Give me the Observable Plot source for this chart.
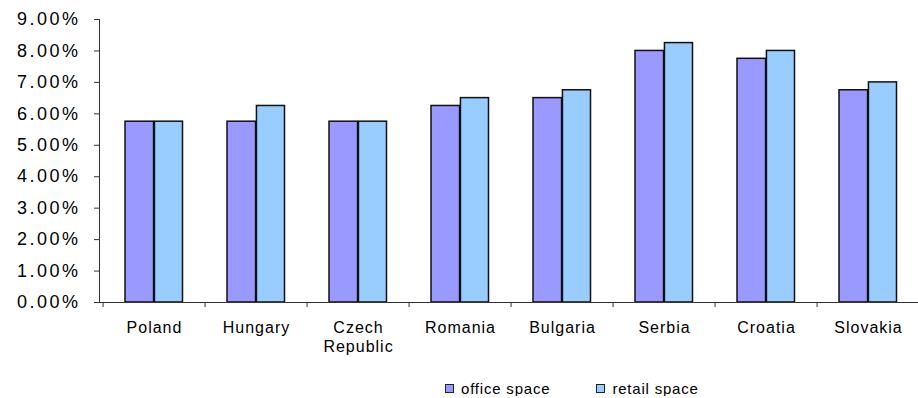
<!DOCTYPE html>
<html>
<head>
<meta charset="utf-8">
<script src="https://cdn.jsdelivr.net/npm/d3@7"></script>
<script src="https://cdn.jsdelivr.net/npm/@observablehq/plot@0.6"></script>
<style>
  html, body { margin: 0; padding: 0; background: #fff; }
  #chart svg { display: block; }
  .ylab text { letter-spacing: 2.5px; }
  .xlab text { letter-spacing: 1px; }
  #legend { display: flex; align-items: center; height: 16px; margin-top: 8px; padding-left: 445px;
            font-family: "Liberation Sans", Arial, sans-serif; font-size: 15px; letter-spacing: 0.8px; color: #000; }
  .sw { width: 7px; height: 7px; border: 1px solid #222; margin-right: 7px; }
  .item { display: flex; align-items: center; }
</style>
</head>
<body>
<div id="chart"></div>
<div id="legend"></div>
<script>
const countries = ["Poland", "Hungary", "Czech Republic", "Romania", "Bulgaria", "Serbia", "Croatia", "Slovakia"];
const officeSpace = [5.75, 5.75, 5.75, 6.25, 6.5, 8.0, 7.75, 6.75];
const retailSpace = [5.75, 6.25, 5.75, 6.5, 6.75, 8.25, 8.0, 7.0];
const seriesNames = ["office space", "retail space"];
const seriesColors = ["#9999ff", "#99ccff"];
const yTicks = [0, 1, 2, 3, 4, 5, 6, 7, 8, 9];

const office = countries.map((c, i) => ({country: c, value: officeSpace[i]}));
const retail = countries.map((c, i) => ({country: c, value: retailSpace[i]}));

const W = 918, ML = 99, MR = -4;
const bw = (W - ML - MR) / countries.length;

const chart = Plot.plot({
  width: W,
  height: 372,
  marginLeft: ML,
  marginRight: MR,
  marginTop: 19,
  marginBottom: 70,
  style: {fontFamily: "'Liberation Sans', Arial, sans-serif", color: "#000", background: "#fff"},
  x: {domain: countries, padding: 0, axis: null, label: null},
  y: {domain: [0, 9], axis: null, label: null},
  marks: [
    Plot.barY(office, {x: "country", y: "value", fill: seriesColors[0], stroke: "#111", strokeWidth: 1.5, insetLeft: 22, insetRight: bw / 2}),
    Plot.barY(retail, {x: "country", y: "value", fill: seriesColors[1], stroke: "#111", strokeWidth: 1.5, insetLeft: bw / 2, insetRight: 22.5}),
    Plot.ruleY([0], {stroke: "#333"}),
    Plot.frame({anchor: "left", stroke: "#333"}),
    Plot.axisY(yTicks, {tickSize: 5, tickPadding: 14, fontSize: 18, stroke: "#333", className: "ylab", label: null,
      tickFormat: d => d.toFixed(2) + "%"}),
    Plot.axisX({tickSize: 0, tickPadding: 17, fontSize: 16, lineHeight: 1.2, className: "xlab", label: null,
      tickFormat: d => d === "Czech Republic" ? "Czech\nRepublic" : d}),
    Plot.axisX({tickSize: 5, dx: -bw / 2, stroke: "#333", label: null, tickFormat: () => ""})
  ]
});
document.getElementById("chart").append(chart);

const legend = document.getElementById("legend");
seriesNames.forEach((name, i) => {
  const item = document.createElement("div");
  item.className = "item";
  if (i > 0) item.style.marginLeft = "46px";
  const sw = document.createElement("div");
  sw.className = "sw";
  sw.style.background = seriesColors[i];
  const t = document.createElement("span");
  t.textContent = name;
  item.append(sw, t);
  legend.append(item);
});
</script>
</body>
</html>
